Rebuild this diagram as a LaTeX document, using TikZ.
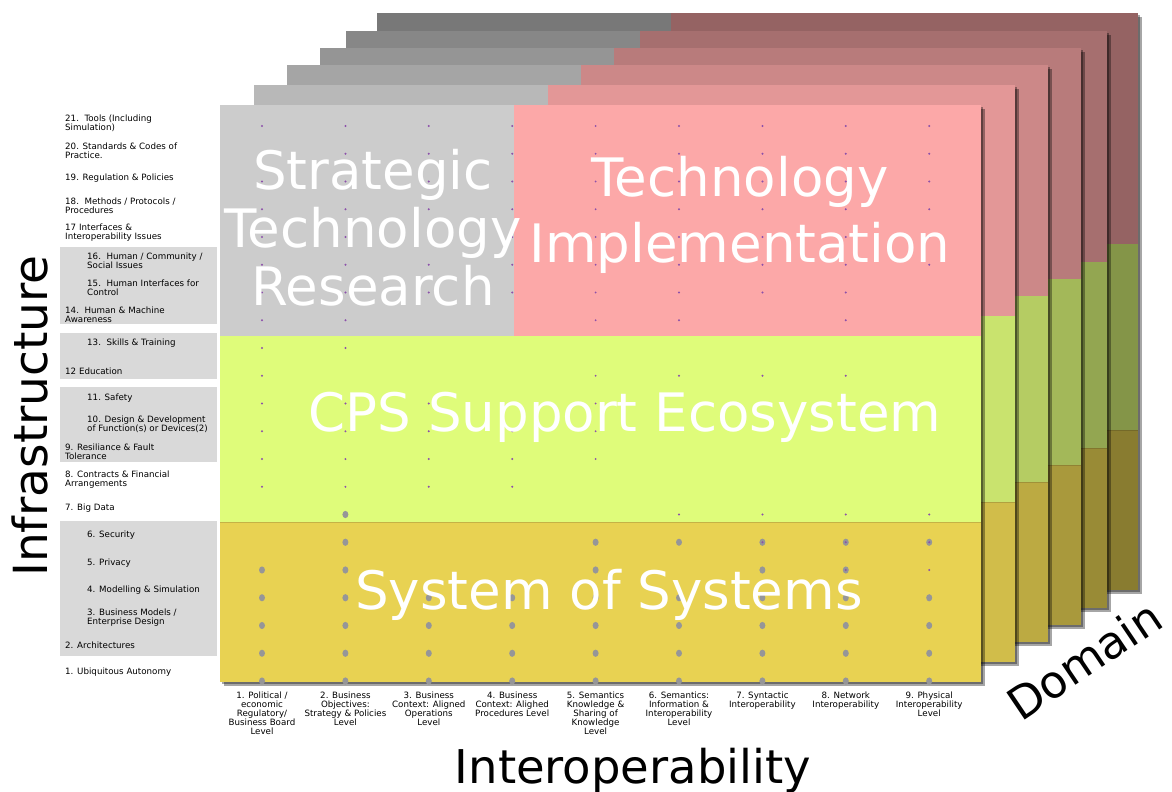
\documentclass[tikz,border=0pt]{standalone}
\usepackage{fontspec}
\setmainfont{DejaVu Sans}
\definecolor{grayF}{RGB}{204,204,204}
\definecolor{pinkF}{RGB}{252,168,168}
\definecolor{limeF}{RGB}{223,252,122}
\definecolor{goldF}{RGB}{232,210,82}
\definecolor{boxgray}{RGB}{217,217,217}
\definecolor{dotpurple}{RGB}{140,80,170}
\definecolor{dotgray}{RGB}{150,150,152}
\newcommand\cpslayer[3]{%
  \fill[black,opacity=0.35] (#1+2,#2+2) rectangle ++(761,577);
  \fill[black,opacity=0.35] (#1+4,#2+4) rectangle ++(761,577);
  \fill[grayF!#3!black] (#1,#2) rectangle ++(294,231);
  \fill[pinkF!#3!black] (#1+294,#2) rectangle ++(467,231);
  \fill[limeF!#3!black] (#1,#2+231) rectangle ++(761,186);
  \fill[goldF!#3!black] (#1,#2+417) rectangle ++(761,160);
  \draw[goldF!#3!black!85!black,line width=0.8pt] (#1,#2+417) -- ++(761,0);
}
\begin{document}
\begin{tikzpicture}[x=1pt,y=-1pt,
  lbl/.style={anchor=base west,align=left,inner sep=0pt,font=\fontsize{8.7}{8.9}\selectfont},
  collbl/.style={anchor=base,align=center,inner sep=0pt,font=\fontsize{8.7}{9}\selectfont},
  bigtitle/.style={text=white,align=center,inner sep=0pt,anchor=base},
  axislbl/.style={inner sep=0pt,font=\fontsize{47}{50}\selectfont},
  sdot/.style={fill=dotpurple},
  gdot/.style={fill=dotgray}]
\useasboundingbox (0,0) rectangle (1172,792);

% stacked domain layers (back to front)
\cpslayer{377}{13}{59}
\cpslayer{346}{31}{66}
\cpslayer{320}{48}{73}
\cpslayer{287}{65}{81}
\cpslayer{254}{85}{90}
\cpslayer{220}{105}{100}

% grey dots (gold region)
\foreach \c/\r in {2/7,2/6,5/6,6/6,7/6,8/6,9/6,1/5,2/5,5/5,7/5,8/5}
  \fill[gdot] ({262+(\c-1)*83.4},{681-(\r-1)*27.75}) ellipse (3 and 3.6);
\foreach \r in {1,2,3,4}
  \foreach \c in {1,...,9}
    \fill[gdot] ({262+(\c-1)*83.4},{681-(\r-1)*27.75}) ellipse (3 and 3.6);

% purple dots
\foreach \r in {16,...,21}
  \foreach \c in {1,...,9}
    \fill[sdot] ({262+(\c-1)*83.4},{681-(\r-1)*27.75}) circle (1.1);
\foreach \c/\r in {1/15,2/15,3/15,4/15,5/15,6/15,7/15,8/15,
                   1/14,2/14,5/14,6/14,8/14,
                   1/13,2/13,1/12,5/12,6/12,7/12,8/12,
                   1/11,2/11,3/11,4/11,5/11,
                   1/10,2/10,3/10,4/10,5/10,
                   1/9,2/9,3/9,4/9,5/9,
                   1/8,2/8,3/8,4/8,
                   6/7,7/7,8/7,9/7,
                   7/6,8/6,9/6,8/5,9/5}
  \fill[sdot] ({262+(\c-1)*83.4},{681-(\r-1)*27.75}) circle (1.1);

% titles (base anchor = baseline of last line)
\node[bigtitle,font=\fontsize{53}{58}\selectfont] (str) at (373,305) {Strategic\\Technology\\Research};
\node[bigtitle,font=\fontsize{53}{66}\selectfont] (tech) at (740,262) {Technology\\Implementation};
\node[bigtitle,font=\fontsize{53}{58}\selectfont] (cps) at (625,431) {CPS Support Ecosystem};
\node[bigtitle,font=\fontsize{53}{58}\selectfont] (sos) at (609,609) {System of Systems};

% axis labels
\node[axislbl,anchor=base,rotate=90] (infra) at (47,416) {Infrastructure};
\node[axislbl,anchor=base,font=\fontsize{46.5}{50}\selectfont] (interop) at (633,783) {Interoperability};
\node[axislbl,rotate=34,font=\fontsize{45}{50}\selectfont] (domain) at (1084,660) {Domain};

% infrastructure label boxes
\fill[boxgray] (60,247) rectangle (217,324);
\fill[boxgray] (60,333) rectangle (217,379);
\fill[boxgray] (60,387) rectangle (217,462);
\fill[boxgray] (60,521) rectangle (217,656);

% infrastructure labels (base = last line)
\node[lbl] (l21) at (65,130.8) {21.\ \ Tools (Including\\Simulation)};
\node[lbl] (l20) at (65,158.8) {20. Standards \& Codes of\\Practice.};
\node[lbl] (l19) at (65,180) {19. Regulation \& Policies};
\node[lbl] (l18) at (65,213.8) {18.\ \ Methods / Protocols /\\Procedures};
\node[lbl] (l17) at (65,239.8) {17 Interfaces \&\\Interoperability Issues};
\node[lbl] (l16) at (87,268.8) {16.\ \ Human / Community /\\Social Issues};
\node[lbl] (l15) at (87,295.8) {15.\ \ Human Interfaces for\\Control};
\node[lbl] (l14) at (65,322.8) {14.\ \ Human \& Machine\\Awareness};
\node[lbl] (l13) at (87,345) {13.\ \ Skills \& Training};
\node[lbl] (l12) at (65,374) {12 Education};
\node[lbl] (l11) at (87,400) {11. Safety};
\node[lbl] (l10) at (87,431.8) {10. Design \& Development\\of Function(s) or Devices(2)};
\node[lbl] (l9) at (65,459.8) {9. Resiliance \& Fault\\Tolerance};
\node[lbl] (l8) at (65,486.8) {8. Contracts \& Financial\\Arrangements};
\node[lbl] (l7) at (65,510) {7. Big Data};
\node[lbl] (l6) at (87,537) {6. Security};
\node[lbl] (l5) at (87,565) {5. Privacy};
\node[lbl] (l4) at (87,592) {4. Modelling \& Simulation};
\node[lbl] (l3) at (87,624.8) {3. Business Models /\\Enterprise Design};
\node[lbl] (l2) at (65,648) {2. Architectures};
\node[lbl] (l1) at (65,674) {1. Ubiquitous Autonomy};

% interoperability labels (base = last line)
\node[collbl] (c1) at (262,734) {1. Political /\\economic\\Regulatory/\\Business Board\\Level};
\node[collbl] (c2) at (345.4,725) {2. Business\\Objectives:\\Strategy \& Policies\\Level};
\node[collbl] (c3) at (428.8,725) {3. Business\\Context: Aligned\\Operations\\Level};
\node[collbl] (c4) at (512.2,716) {4. Business\\Context: Alighed\\Procedures Level};
\node[collbl] (c5) at (595.6,734) {5. Semantics\\Knowledge \&\\Sharing of\\Knowledge\\Level};
\node[collbl] (c6) at (679,725) {6. Semantics:\\Information \&\\Interoperability\\Level};
\node[collbl] (c7) at (762.4,707) {7. Syntactic\\Interoperability};
\node[collbl] (c8) at (845.8,707) {8. Network\\Interoperability};
\node[collbl] (c9) at (929.2,716) {9. Physical\\Interoperability\\Level};
\end{tikzpicture}
\end{document}
